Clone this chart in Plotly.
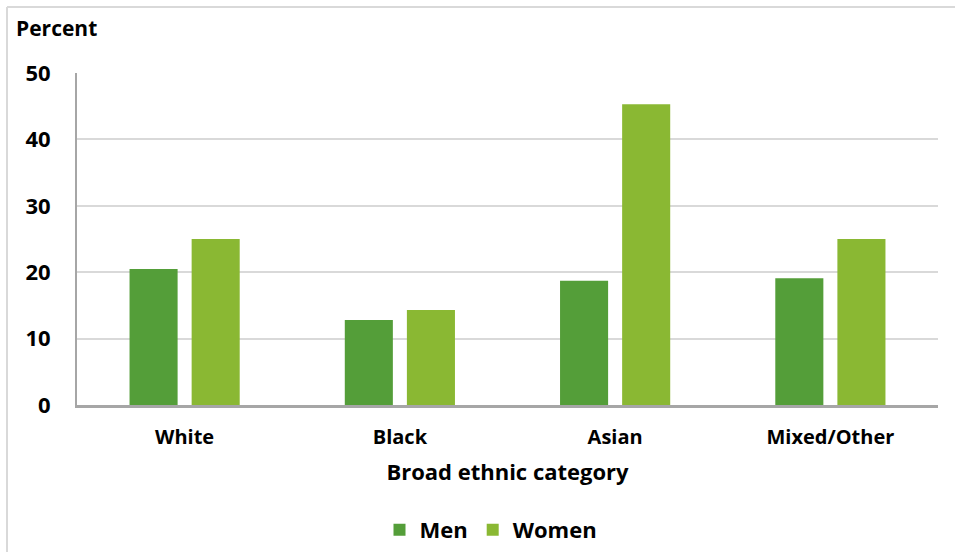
import plotly.graph_objects as go

categories = ["White", "Black", "Asian", "Mixed/Other"]
men = [20.5, 12.8, 18.7, 19.1]
women = [25.0, 14.3, 45.3, 25.0]
y_ticks = [0, 10, 20, 30, 40, 50]

W, H = 955, 552
L, R, T, B = 77, 17, 73, 147
pw, ph = W - L - R, H - T - B

def px(x):
    return (x - L) / pw

def py(y):
    return (H - B - y) / ph

FONT = "Open Sans"

fig = go.Figure()
fig.add_trace(go.Bar(x=categories, y=men, name="<b>Men</b>", marker=dict(color="#549E39", line=dict(width=0))))
fig.add_trace(go.Bar(x=categories, y=women, name="<b>Women</b>", marker=dict(color="#8AB833", line=dict(width=0))))

fig.update_layout(
    width=W, height=H,
    margin=dict(l=L, r=R, t=T, b=B, autoexpand=False),
    paper_bgcolor="white", plot_bgcolor="white",
    barmode="group", bargap=0.423, bargroupgap=0.226,
    font=dict(family=FONT, color="black"),
    showlegend=True,
    legend=dict(orientation="h", x=px(491), xanchor="center", y=py(530), yanchor="middle",
                font=dict(size=22, family=FONT, color="black"), itemwidth=30, tracegroupgap=0),
    xaxis=dict(
        automargin=False,
        showgrid=False, showline=True, linecolor="#A6A6A6", linewidth=3,
        ticks="", tickfont=dict(size=20, family=FONT, weight="bold"),
        ticklabelstandoff=12,
        title=dict(text="<b>Broad ethnic category</b>", font=dict(size=22, family=FONT), standoff=16),
    ),
    yaxis=dict(
        automargin=False,
        range=[0, 50], tickvals=y_ticks, showgrid=True, gridcolor="#D9D9D9", gridwidth=2,
        showline=True, linecolor="#A6A6A6", linewidth=2, zeroline=False,
        ticks="", tickfont=dict(size=22, family=FONT, weight="bold"), ticklabelstandoff=20,
    ),
    annotations=[
        dict(text="<b>Percent</b>", x=px(14), y=py(28), xref="paper", yref="paper",
             xanchor="left", yanchor="middle", showarrow=False, font=dict(size=21, family=FONT)),
    ],
    shapes=[
        dict(type="line", xref="paper", yref="paper", x0=px(7), x1=px(7), y0=py(560), y1=py(7),
             line=dict(color="#D9D9D9", width=2)),
        dict(type="line", xref="paper", yref="paper", x0=px(7), x1=px(960), y0=py(7), y1=py(7),
             line=dict(color="#D9D9D9", width=2)),
    ],
)

fig.write_html("out.html", config={"displayModeBar": False},
               post_script="document.body.style.margin='0';")
